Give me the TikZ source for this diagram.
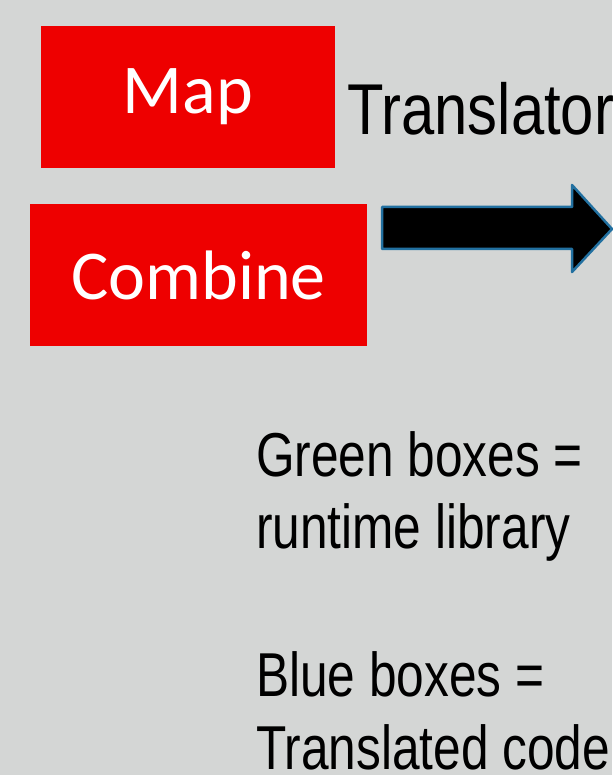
\documentclass[tikz,border=0pt]{standalone}
\usepackage{fontspec}
\setmainfont{Liberation Sans}[FakeStretch=0.8]
\newfontfamily\titlefont{Liberation Sans}[FakeStretch=0.83]
\newfontfamily\boxfont{Carlito}
\definecolor{bggrey}{HTML}{D4D6D5}
\definecolor{boxred}{HTML}{EE0000}
\definecolor{arrowblue}{HTML}{2270A0}
\begin{document}
\begin{tikzpicture}[x=1pt,y=-1pt,line join=round,
  redbox/.style={draw=none,fill=boxred,text=white,inner sep=0pt,minimum height=142pt,font=\boxfont\fontsize{70}{84}\selectfont},
  note/.style={anchor=base west,inner sep=0pt,font=\fontsize{62}{73}\selectfont}]
  %Nen
  \fill[bggrey] (0,0) rectangle (612,775);
  \useasboundingbox (0,0) rectangle (612,775);
  %Hop do
  \node[redbox,minimum width=294pt] (map) at (188,97) {Map};
  \node[redbox,minimum width=337pt] (combine) at (198.5,275) {Combine};
  %Mui ten
  \draw[arrowblue,line width=2.5pt,fill=black]
    (382,207)--(572,207)--(572,185)--(612,229)--(572,272)--(572,249)--(382,249)--cycle;
  \node[anchor=base west,inner sep=0pt,font=\titlefont\fontsize{72}{86}\selectfont] (translator) at (347,135) {Translator};
  %Ghi chu
  \node[note] (green1) at (256,476) {Green boxes =};
  \node[note] (green2) at (256,548) {runtime library};
  \node[note] (blue1) at (256,696) {Blue boxes =};
  \node[note] (blue2) at (256,769) {Translated code};
\end{tikzpicture}
\end{document}
